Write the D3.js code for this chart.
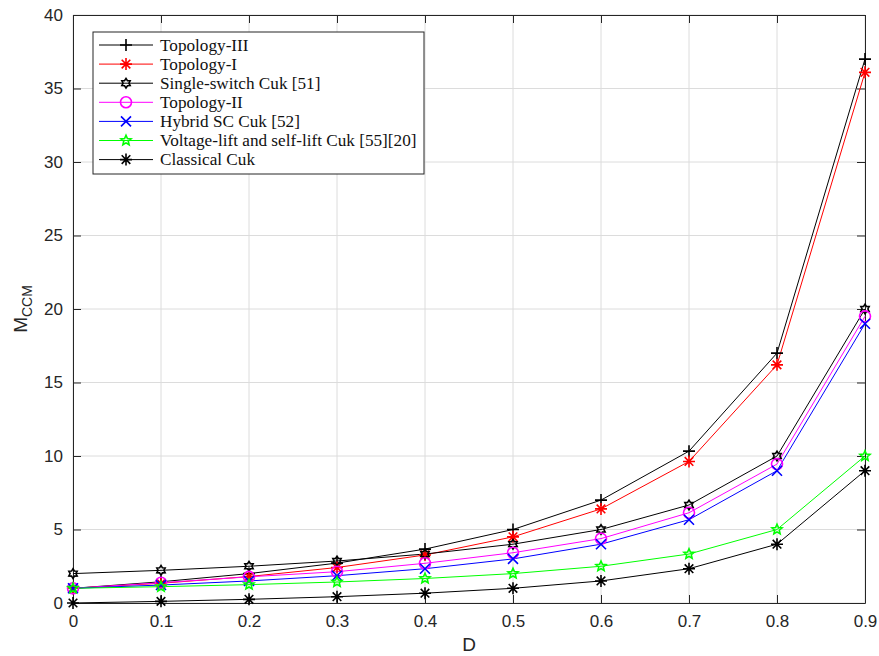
<!DOCTYPE html>
<html><head><meta charset="utf-8">
<script src="https://cdn.jsdelivr.net/npm/d3@7"></script>
<style>body{margin:0;background:#fff}</style></head>
<body><svg id="c" width="879" height="656"></svg>
<script>
const dutyCycle = [0, 0.1, 0.2, 0.3, 0.4, 0.5, 0.6, 0.7, 0.8, 0.9];
const topologyIII = [1, 1.444, 2, 2.714, 3.667, 5, 7, 10.33, 17, 37];
const topologyI = [1, 1.344, 1.8, 2.414, 3.267, 4.5, 6.4, 9.63, 16.2, 36.1];
const singleSwitch = [2, 2.222, 2.5, 2.857, 3.333, 4, 5, 6.667, 10, 20];
const topologyII = [1, 1.38, 1.78, 2.13, 2.7, 3.42, 4.38, 6.14, 9.45, 19.5];
const hybridSC = [1, 1.222, 1.5, 1.857, 2.333, 3, 4, 5.667, 9, 19];
const voltageLift = [1, 1.111, 1.25, 1.429, 1.667, 2, 2.5, 3.333, 5, 10];
const classical = [0, 0.111, 0.25, 0.429, 0.667, 1, 1.5, 2.333, 4, 9];
const xTicks = [0, 0.1, 0.2, 0.3, 0.4, 0.5, 0.6, 0.7, 0.8, 0.9];
const yTicks = [0, 5, 10, 15, 20, 25, 30, 35, 40];

const series = [
  {name: "Topology-III", values: topologyIII, color: "#000000", marker: "plus"},
  {name: "Topology-I", values: topologyI, color: "#ff0000", marker: "asterisk"},
  {name: "Single-switch Cuk [51]", values: singleSwitch, color: "#000000", marker: "hexagram"},
  {name: "Topology-II", values: topologyII, color: "#ff00ff", marker: "circle"},
  {name: "Hybrid SC Cuk [52]", values: hybridSC, color: "#0000ff", marker: "cross"},
  {name: "Voltage-lift and self-lift Cuk [55][20]", values: voltageLift, color: "#00ff00", marker: "pentagram"},
  {name: "Classical Cuk", values: classical, color: "#000000", marker: "asterisk"}
];

const L = 73, R = 865, T = 15, B = 603;
const svg = d3.select("#c");
const x = d3.scaleLinear().domain([0, 0.9]).range([L, R]);
const y = d3.scaleLinear().domain([0, 40]).range([B, T]);

function star(n, ro, ri) {
  let p = [];
  for (let i = 0; i < 2 * n; i++) {
    const a = -Math.PI / 2 + i * Math.PI / n;
    const r = i % 2 === 0 ? ro : ri;
    p.push([r * Math.cos(a), r * Math.sin(a)]);
  }
  return "M" + p.map(d => d[0].toFixed(2) + "," + d[1].toFixed(2)).join("L") + "Z";
}
function markerPath(type) {
  const r = 6;
  switch (type) {
    case "plus": return `M${-r},0H${r}M0,${-r}V${r}`;
    case "cross": { const c = 5; return `M${-c},${-c}L${c},${c}M${-c},${c}L${c},${-c}`; }
    case "asterisk": { const c = 4.3; return `M${-r},0H${r}M0,${-r}V${r}M${-c},${-c}L${c},${c}M${-c},${c}L${c},${-c}`; }
    case "hexagram": return star(6, 4.8, 2.9);
    case "pentagram": return star(5, 5.3, 2.4);
  }
}
function drawMarker(g, type, color, cx, cy) {
  if (type === "circle") {
    g.append("circle").attr("cx", cx).attr("cy", cy).attr("r", 5.5)
      .attr("fill", "none").attr("stroke", color).attr("stroke-width", 1.6);
  } else {
    g.append("path").attr("d", markerPath(type)).attr("transform", `translate(${cx},${cy})`)
      .attr("fill", "none").attr("stroke", color).attr("stroke-width", 1.6);
  }
}

// grid
const grid = svg.append("g");
grid.selectAll("line.vx").data(xTicks).join("line")
  .attr("x1", d => x(d)).attr("x2", d => x(d)).attr("y1", T).attr("y2", B)
  .attr("stroke", "#dcdcdc").attr("stroke-width", 1);
grid.selectAll("line.hy").data(yTicks).join("line").attr("class", "hy")
  .attr("x1", L).attr("x2", R).attr("y1", d => y(d)).attr("y2", d => y(d))
  .attr("stroke", "#dcdcdc").attr("stroke-width", 1);

// axes
const axisColor = "#262626";
const tickFont = "Liberation Sans, Arial, sans-serif";
const xAxis = svg.append("g").attr("transform", `translate(0,${B})`)
  .call(d3.axisBottom(x).tickValues(xTicks).tickFormat(d => d === 0 ? "0" : d3.format(".1f")(d)).tickSizeInner(-8).tickSizeOuter(0).tickPadding(12));
const yAxis = svg.append("g").attr("transform", `translate(${L},0)`)
  .call(d3.axisLeft(y).tickValues(yTicks).tickSizeInner(-8).tickSizeOuter(0).tickPadding(10));
const xTop = svg.append("g").attr("transform", `translate(0,${T})`)
  .call(d3.axisTop(x).tickValues(xTicks).tickFormat("").tickSizeInner(-8).tickSizeOuter(0));
const yRight = svg.append("g").attr("transform", `translate(${R},0)`)
  .call(d3.axisRight(y).tickValues(yTicks).tickFormat("").tickSizeInner(-8).tickSizeOuter(0));
[xAxis, yAxis, xTop, yRight].forEach(a => {
  a.selectAll("path.domain").attr("stroke", axisColor).attr("stroke-width", 1);
  a.selectAll(".tick line").attr("stroke", axisColor);
  a.selectAll("text").attr("fill", axisColor).style("font-family", tickFont).style("font-size", "17px");
});

// series
const line = d3.line().x((d, i) => x(dutyCycle[i])).y(d => y(d));
series.forEach(s => {
  svg.append("path").datum(s.values).attr("d", line)
    .attr("fill", "none").attr("stroke", s.color).attr("stroke-width", 1);
});
series.forEach(s => {
  const g = svg.append("g");
  s.values.forEach((v, i) => drawMarker(g, s.marker, s.color, x(dutyCycle[i]), y(v)));
});

// axis labels
svg.append("text").attr("x", (L + R) / 2).attr("y", 651).attr("text-anchor", "middle")
  .attr("fill", axisColor).style("font-family", tickFont).style("font-size", "19px").text("D");
const yl = svg.append("text").attr("transform", `translate(27,${(T + B) / 2}) rotate(-90)`)
  .attr("text-anchor", "middle").attr("fill", axisColor).style("font-family", tickFont).style("font-size", "19px");
yl.append("tspan").text("M");
yl.append("tspan").attr("dy", 5).style("font-size", "14px").text("CCM");

// legend
const lg = svg.append("g");
const lx = 93, ly = 32, lw = 331, lh = 142;
lg.append("rect").attr("x", lx).attr("y", ly).attr("width", lw).attr("height", lh)
  .attr("fill", "#fff").attr("stroke", axisColor).attr("stroke-width", 1);
series.forEach((s, i) => {
  const cy = 45 + i * 19.1;
  lg.append("line").attr("x1", 99).attr("x2", 153).attr("y1", cy).attr("y2", cy)
    .attr("stroke", s.color).attr("stroke-width", 1);
  drawMarker(lg, s.marker, s.color, 126, cy);
  lg.append("text").attr("x", 160).attr("y", cy + 5.5).attr("fill", "#111")
    .style("font-family", "Liberation Serif, DejaVu Serif, serif").style("font-size", "17.2px").text(s.name);
});
</script></body></html>
